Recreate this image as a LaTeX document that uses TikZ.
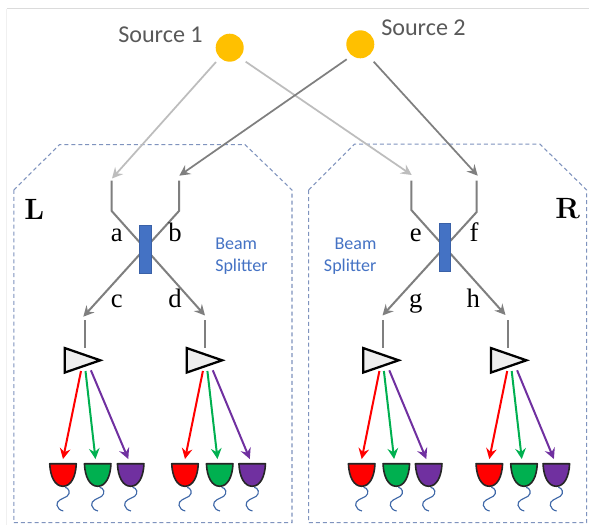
\documentclass[tikz,border=0pt]{standalone}
\usepackage{fontspec}
\newfontfamily\carlito{Carlito}
\newfontfamily\libserif{Liberation Serif}
\usetikzlibrary{arrows.meta}
\definecolor{srcgold}{HTML}{FFC000}
\definecolor{bsblue}{HTML}{4472C4}
\definecolor{dashblue}{HTML}{7F93BE}
\definecolor{wigblue}{HTML}{3F68A8}
\definecolor{lightbeam}{HTML}{BDBDBD}
\definecolor{darkbeam}{HTML}{7F7F7F}
\definecolor{txtgray}{HTML}{595959}
\definecolor{dgreen}{HTML}{00B050}
\definecolor{dpurple}{HTML}{7030A0}
\tikzset{
  source/.style={circle,fill=srcgold,draw=none,minimum size=21pt,inner sep=0pt},
  splitter/.style={rectangle,fill=bsblue,draw=bsblue!85!black,line width=.4pt,minimum width=8.4pt,minimum height=36pt,inner sep=0pt},
  region/.style={draw=dashblue,line width=.8pt,dash pattern=on 3pt off 2.2pt},
  beam/.style={line width=1.3pt,-{Stealth[length=8pt,width=8pt,inset=2.8pt]}},
  guide/.style={darkbeam,line width=1.5pt},
  colorbeam/.style={line width=1.5pt,-{Stealth[length=8pt,width=8pt,inset=2.8pt]}},
  ampbox/.style={rectangle,draw=none,minimum width=26.25pt,minimum height=18pt,inner sep=0pt},
  detbox/.style={rectangle,draw=none,minimum width=19.5pt,minimum height=16.5pt,inner sep=0pt},
  portlabel/.style={anchor=base,inner sep=0pt,font=\libserif\fontsize{20}{22}\selectfont,text=black},
  sidelabel/.style={anchor=base west,inner sep=0pt,font=\fontsize{22}{24}\selectfont\bfseries,text=black},
  srclabel/.style={anchor=base west,inner sep=0pt,font=\carlito\fontsize{18.1}{20}\selectfont,text=txtgray},
  bslabel/.style={inner sep=0pt,font=\carlito\fontsize{13.5}{16.5}\selectfont,text=bsblue},
}
% amplifier triangle drawn on a named box
\newcommand{\amp}[3]{%
  \node[ampbox] (#1) at (#2,#3) {};
  \draw[black,line width=1.7pt,fill=gray!13,line join=miter] (#1.north west) -- (#1.east) -- (#1.south west) -- cycle;}
% detector cup with its wiggly lead
\newcommand{\detector}[3]{%
  \node[detbox] (#1) at (#2,475) {};
  \draw[black!85,line width=1.2pt,fill=#3,line join=round] (#1.north west)
     .. controls ([shift={(0.5,13)}]#1.north west) and ([shift={(-8,0)}]#1.south) .. (#1.south)
     .. controls ([shift={(8,0)}]#1.south) and ([shift={(-0.5,13)}]#1.north east) .. (#1.north east)
     -- cycle;
  \begin{scope}[shift={(#1.south)}]
    \draw[wigblue,line width=.85pt] (2,1) .. controls (6,1.5) and (8,7) .. (4,10)
      .. controls (0,12.5) and (-7,14) .. (-6,19) .. controls (-5.5,22) and (-3,24) .. (0.3,24.7);
  \end{scope}}
% three coloured beams from an amplifier to its detectors
\newcommand{\fan}[4]{%
  \draw[colorbeam,red] ([shift={(-1.5,10.7)}]#1.center) -- ([shift={(0,-4.7)}]#2.north);
  \draw[colorbeam,dgreen] ([shift={(3,10.7)}]#1.center) -- ([shift={(-2.2,-4.7)}]#3.north);
  \draw[colorbeam,dpurple] ([shift={(8.4,10)}]#1.center) -- ([shift={(-2.4,-4.7)}]#4.north);}
\begin{document}
\begin{tikzpicture}[x=0.75pt,y=-0.75pt]
\useasboundingbox (0,0) rectangle (589,525);
\fill[white] (0,0) rectangle (589,525);
% faint frame
\draw[gray!28,line width=.7pt] (7,8.5) -- (589,8.5);
\draw[gray!12,line width=.7pt] (6.5,8.5) -- (6.5,525);
% regions
\draw[region] (13.8,190) -- (59.5,144.6) -- (245,144.6) -- (292,190) -- (292,522.7) -- (13.8,522.7) -- cycle;
\draw[region] (308.7,190) -- (354.5,144.2) -- (540,144.2) -- (586.7,190) -- (586.7,522.7) -- (308.7,522.7) -- cycle;
% sources
\node[source] (S1) at (229.7,47.7) {};
\node[source] (S2) at (360.3,44.3) {};
\node[srclabel] (S1t) at (118,42.3) {Source 1};
\node[srclabel] (S2t) at (381,35) {Source 2};
% inputs
\coordinate (Ain) at (112,178.5);
\coordinate (Bin) at (179.3,175.7);
\coordinate (Ein) at (411.7,175);
\coordinate (Fin) at (477.7,175.7);
\draw[beam,lightbeam] ([shift={(-13.7,14.3)}]S1.center) -- (Ain);
\draw[beam,lightbeam] ([shift={(16,14)}]S1.center) -- (Ein);
\draw[beam,darkbeam] ([shift={(-13.6,15)}]S2.center) -- (Bin);
\draw[beam,darkbeam] ([shift={(13.4,17.4)}]S2.center) -- (Fin);
% left splitter
\coordinate (a0) at (111.7,180.7); \coordinate (a1) at (111.7,211);
\coordinate (b0) at (179,180.7);   \coordinate (b1) at (179,211);
\coordinate (cE) at (83.3,316.7);  \coordinate (dE) at (205,315.5);
\draw[guide,-{Stealth[length=8pt,width=8pt,inset=2.8pt]}] (a0) -- (a1) -- (dE);
\draw[guide,-{Stealth[length=8pt,width=8pt,inset=2.8pt]}] (b0) -- (b1) -- (cE);
\node[splitter] (BSL) at (145.2,249) {};
% right splitter
\coordinate (e0) at (411.3,180.7); \coordinate (e1) at (411.3,210);
\coordinate (f0) at (476.7,180.7); \coordinate (f1) at (476.7,212);
\coordinate (gE) at (382.5,315.5);  \coordinate (hE) at (505.5,315);
\draw[guide,-{Stealth[length=8pt,width=8pt,inset=2.8pt]}] (e0) -- (e1) -- (hE);
\draw[guide,-{Stealth[length=8pt,width=8pt,inset=2.8pt]}] (f0) -- (f1) -- (gE);
\node[splitter] (BSR) at (444.8,247.5) {};
% port labels
\node[portlabel] (la) at (116.7,241.7) {a};
\node[portlabel] (lb) at (175,241.7) {b};
\node[portlabel] (lc) at (116.7,307.3) {c};
\node[portlabel] (ld) at (175,307.3) {d};
\node[portlabel] (le) at (415.7,241.7) {e};
\node[portlabel] (lf) at (474,241.7) {f};
\node[portlabel] (lg) at (415.7,307.3) {g};
\node[portlabel] (lh) at (473.3,307.3) {h};
\node[sidelabel] (tL) at (24,219.3) {L};
\node[sidelabel] (tR) at (555,218.3) {R};
\node[bslabel,align=left,anchor=west] (bsl) at (215,256) {Beam\\Splitter};
\node[bslabel,align=right,anchor=east] (bsr) at (376.7,256) {Beam\\Splitter};
% amplifiers
\amp{T1}{82.5}{360.3}
\amp{T2}{204.4}{360.3}
\amp{T3}{380.9}{360.3}
\amp{T4}{508.7}{360.3}
\coordinate (v1) at (85.3,320); \coordinate (v2) at (205,320);
\coordinate (v3) at (383.3,320); \coordinate (v4) at (508.3,320);
\draw[guide] (v1) -- (v1 |- T1.north);
\draw[guide] (v2) -- (v2 |- T2.north);
\draw[guide] (v3) -- (v3 |- T3.north);
\draw[guide] (v4) -- (v4 |- T4.north);
% detectors
\detector{D11}{63}{red}   \detector{D12}{97.7}{dgreen}  \detector{D13}{130.7}{dpurple}
\detector{D21}{185}{red}  \detector{D22}{219.7}{dgreen} \detector{D23}{252.2}{dpurple}
\detector{D31}{361.7}{red}\detector{D32}{396.3}{dgreen} \detector{D33}{428.7}{dpurple}
\detector{D41}{489.3}{red}\detector{D42}{524}{dgreen}   \detector{D43}{556.3}{dpurple}
\fan{T1}{D11}{D12}{D13}
\fan{T2}{D21}{D22}{D23}
\fan{T3}{D31}{D32}{D33}
\fan{T4}{D41}{D42}{D43}
\end{tikzpicture}
\end{document}
